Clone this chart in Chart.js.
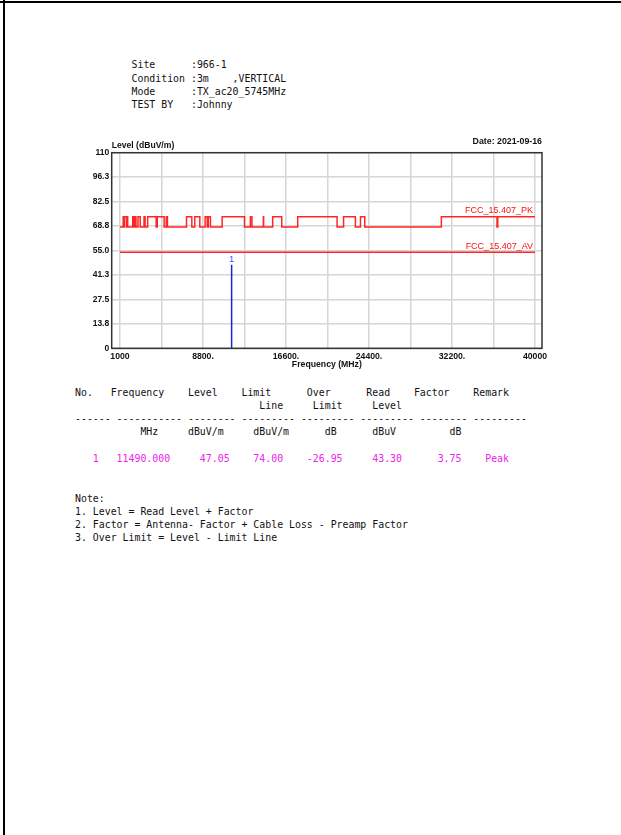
<!DOCTYPE html>
<html>
<head>
<meta charset="utf-8">
<script src="https://cdn.jsdelivr.net/npm/chart.js@4.4.1/dist/chart.umd.min.js"></script>
<style>
  body { margin: 0; background: #fff; width: 621px; height: 835px; overflow: hidden; position: relative; }
  .edgeTop { position: absolute; left: 0; top: 1px; width: 621px; height: 2px; background: #000; }
  .edgeLeft { position: absolute; left: 3px; top: 0; width: 2px; height: 835px; background: #000; }
  pre { position: absolute; margin: 0; font-family: 'DejaVu Sans Mono', monospace; font-size: 9.88px; line-height: 13.3px; color: #111; }
  #head { left: 131.5px; top: 58.3px; }
  #table { left: 75px; top: 385.6px; }
  #notes { left: 75px; top: 491.5px; }
  .mag { color: #ee22ee; }
  #wrap { position: absolute; left: 0; top: 0; width: 621px; height: 380px; }
</style>
</head>
<body>
<div class="edgeTop"></div>
<div class="edgeLeft"></div>

<pre id="head">Site      :966-1
Condition :3m    ,VERTICAL
Mode      :TX_ac20_5745MHz
TEST BY   :Johnny</pre>

<pre id="table"></pre>

<pre id="notes">Note:
1. Level = Read Level + Factor
2. Factor = Antenna- Factor + Cable Loss - Preamp Factor
3. Over Limit = Level - Limit Line</pre>

<div id="wrap"><canvas id="myChart" width="621" height="380"></canvas></div>

<script>
// limit lines (value holds from that frequency up to the next one)
const pkFreq = [1000, 1300, 1427, 1435, 1626.5, 1645.5, 1646.5, 1660, 1710, 1718.8, 1722.2,
    2200, 2300, 2310, 2390, 2483.5, 2500, 2690, 2900, 3260, 3267, 3332, 3339, 3345.8, 3358,
    3600, 4400, 4500, 5150, 5350, 5460, 7250, 7750, 8025, 8500, 9000, 9200, 9300, 9500,
    10600, 12700, 13250, 13400, 14470, 14500, 15350, 16200, 17700, 21400, 22010, 23120,
    23600, 24000, 31200, 36430, 36500, 40000]
const pkLimit = [68.2, 74, 68.2, 74, 68.2, 74, 68.2, 74, 68.2, 74, 68.2,
    74, 68.2, 74, 68.2, 74, 68.2, 74, 68.2, 74, 68.2, 74, 68.2, 74, 68.2,
    74, 68.2, 74, 68.2, 74, 68.2, 74, 68.2, 74, 68.2, 74, 68.2, 74, 68.2,
    74, 68.2, 74, 68.2, 74, 68.2, 74, 68.2, 74, 68.2, 74, 68.2,
    74, 68.2, 74, 68.2, 74, 74]
const avFreq = [1000, 40000]
const avLimit = [54, 54]

// marker table
const markNo = [1]
const markFreq = [11490.000]
const markLevel = [47.05]
const markLimit = [74.00]
const markOver = [-26.95]
const markRead = [43.30]
const markFactor = [3.75]
const markRemark = ['Peak']

// axes
const xTickValues = [1000, 4900, 8800, 12700, 16600, 20500, 24400, 28300, 32200, 36100, 40000]
const xTickLabels = ['1000', '', '8800.', '', '16600.', '', '24400.', '', '32200.', '', '40000']
const yTickValues = [0, 13.75, 27.5, 41.25, 55, 68.75, 82.5, 96.25, 110]
const yTickLabels = ['0', '13.8', '27.5', '41.3', '55.0', '68.8', '82.5', '96.3', '110']

// text table
const cols = [3, 7, 21, 30, 39, 50, 61, 69]
function placeRow(items) {
    let s = ''
    items.forEach((t, i) => {
        while (s.length < cols[i]) s += ' '
        s += t
    })
    return s
}
let rows = [
    'No.   Frequency    Level    Limit      Over      Read    Factor    Remark',
    '                               Line     Limit     Level',
    '------ ----------- -------- --------- --------- --------- -------- ---------',
    '           MHz     dBuV/m     dBuV/m      dB      dBuV         dB',
    ''
]
let html = rows.join('\n')
for (let i = 0; i < markNo.length; i++) {
    html += '\n<span class="mag">' + placeRow([
        String(markNo[i]), markFreq[i].toFixed(3), markLevel[i].toFixed(2), markLimit[i].toFixed(2),
        markOver[i].toFixed(2), markRead[i].toFixed(2), markFactor[i].toFixed(2), markRemark[i]
    ]) + '</span>'
}
document.getElementById('table').innerHTML = html

Chart.defaults.font.family = "'Liberation Sans', Arial, sans-serif"
Chart.defaults.color = '#111'

const frame = {
    id: 'frame',
    afterDraw(chart) {
        const { ctx, chartArea: a, scales: { x, y } } = chart
        ctx.save()
        ctx.strokeStyle = '#333'
        ctx.lineWidth = 1.5
        ctx.strokeRect(a.left, a.top, a.right - a.left, a.bottom - a.top)

        ctx.fillStyle = '#111'
        ctx.font = "bold 8.6px 'Liberation Sans', Arial"
        ctx.textBaseline = 'middle'
        ctx.textAlign = 'left'
        ctx.fillText('Level (dBuV/m)', a.left, a.top - 7)
        ctx.font = "bold 8.8px 'Liberation Sans', Arial"
        ctx.textAlign = 'right'
        ctx.fillText('Date: 2021-09-16', a.right, a.top - 11)
        ctx.font = "bold 8.7px 'Liberation Sans', Arial"
        ctx.textAlign = 'center'
        ctx.fillText('Frequency (MHz)', (a.left + a.right) / 2, a.bottom + 16.7)

        ctx.fillStyle = '#ff1010'
        ctx.font = "9px 'Liberation Sans', Arial"
        ctx.textAlign = 'right'
        ctx.fillText('FCC_15.407_PK', x.getPixelForValue(40000) - 2, y.getPixelForValue(74) - 6)
        ctx.fillText('FCC_15.407_AV', x.getPixelForValue(40000) - 2, y.getPixelForValue(54) - 5.6)

        ctx.fillStyle = '#4a4aff'
        ctx.textAlign = 'center'
        ctx.font = "9.5px 'Liberation Sans', Arial"
        markNo.forEach((n, i) => {
            ctx.fillText(String(n), x.getPixelForValue(markFreq[i]), y.getPixelForValue(markLevel[i]) - 4.8)
        })
        ctx.restore()
    }
}

new Chart(document.getElementById('myChart'), {
    type: 'line',
    data: {
        datasets: [{
            data: pkFreq.map((f, i) => ({ x: f, y: pkLimit[i] })),
            borderColor: 'rgba(255,0,0,0.85)',
            borderWidth: 1.5,
            stepped: 'before',
            pointRadius: 0
        }, {
            data: avFreq.map((f, i) => ({ x: f, y: avLimit[i] })),
            borderColor: 'rgba(255,0,0,0.85)',
            borderWidth: 1.5,
            pointRadius: 0
        }, {
            data: [{ x: markFreq[0], y: 0 }, { x: markFreq[0], y: markLevel[0] }],
            borderColor: '#1f1fd8',
            borderWidth: 1.5,
            pointRadius: 0
        }]
    },
    options: {
        responsive: false,
        animation: false,
        devicePixelRatio: 1,
        layout: { padding: { left: 60, top: 152.7, right: 79, bottom: 11.7 } },
        plugins: { legend: { display: false }, tooltip: { enabled: false } },
        scales: {
            x: {
                type: 'linear',
                min: 220,
                max: 40658,
                afterBuildTicks: s => { s.ticks = xTickValues.map(v => ({ value: v })) },
                afterFit: s => { s.height = 20 },
                grid: { color: '#d6d6d6', lineWidth: 1.5, drawTicks: false },
                border: { display: false },
                ticks: {
                    autoSkip: false,
                    maxRotation: 0,
                    padding: 3,
                    font: { size: 8.7, weight: 'bold' },
                    callback: (v, i) => xTickLabels[i]
                }
            },
            y: {
                min: 0,
                max: 110,
                afterBuildTicks: s => { s.ticks = yTickValues.map(v => ({ value: v })) },
                afterFit: s => { s.width = 51.7 },
                grid: { color: '#d6d6d6', lineWidth: 1.5, drawTicks: false },
                border: { display: false },
                ticks: {
                    padding: 2.5,
                    font: { size: 8.5, weight: 'bold' },
                    callback: (v, i) => yTickLabels[i]
                }
            }
        }
    },
    plugins: [frame]
})
</script>
</body>
</html>
